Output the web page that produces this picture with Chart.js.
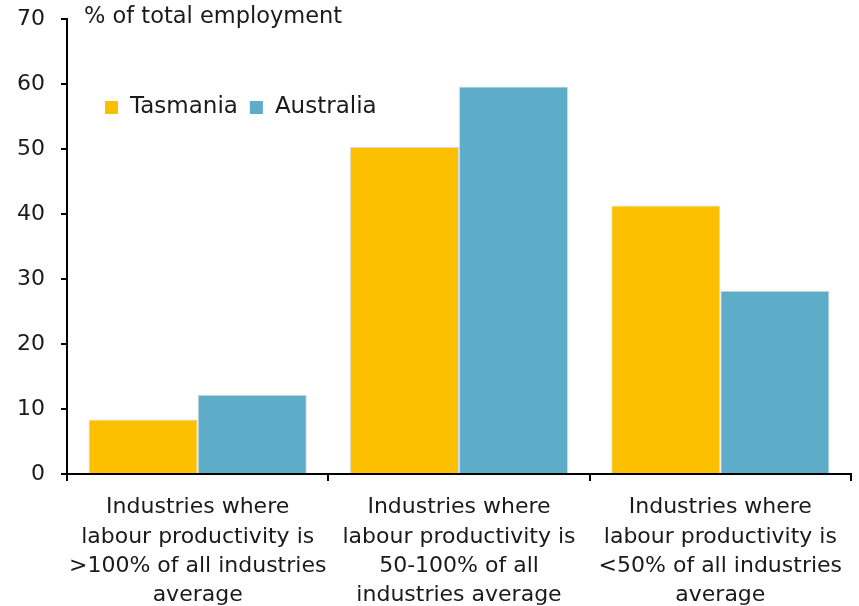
<!DOCTYPE html>
<html>
<head>
<meta charset="utf-8">
<script src="https://cdn.jsdelivr.net/npm/chart.js@4"></script>
<style>
  html, body { margin: 0; padding: 0; background: #fff; }
  #wrap { width: 859px; height: 606px; }
</style>
</head>
<body>
<div id="wrap"><canvas id="chart" width="859" height="606"></canvas></div>
<script>
// categories (multi-line labels)
const categories = [
  ['Industries where', 'labour productivity is', '>100% of all industries', 'average'],
  ['Industries where', 'labour productivity is', '50-100% of all', 'industries average'],
  ['Industries where', 'labour productivity is', '<50% of all industries', 'average'],
];
const tasmania = [8.4, 50.3, 41.3];
const australia = [12.2, 59.6, 28.2];
const yTicks = [0, 10, 20, 30, 40, 50, 60, 70];

const FONT = "'DejaVu Sans', sans-serif";
const TEXT = '#1a1a1a';

// axis title + legend drawn in the top-left corner of the plot
const overlayPlugin = {
  id: 'overlay',
  afterDraw(chart) {
    const { ctx } = chart;
    ctx.save();
    ctx.fillStyle = TEXT;
    ctx.font = '22.5px ' + FONT;
    ctx.textBaseline = 'middle';
    ctx.textAlign = 'left';
    ctx.fillText('% of total employment', 84, 17);

    ctx.font = '23px ' + FONT;
    let x = 105;
    chart.data.datasets.forEach((ds) => {
      ctx.fillStyle = ds.backgroundColor;
      ctx.fillRect(x, 101, 13, 13);
      ctx.fillStyle = TEXT;
      ctx.fillText(ds.label, x + 25, 107);
      x += 25 + ctx.measureText(ds.label).width + 12;
    });
    ctx.restore();
  },
};

new Chart(document.getElementById('chart'), {
  type: 'bar',
  data: {
    labels: categories,
    datasets: [
      {
        label: 'Tasmania',
        data: tasmania,
        backgroundColor: '#FDC000',
        borderColor: '#d9d9d9',
        borderWidth: 1,
      },
      {
        label: 'Australia',
        data: australia,
        backgroundColor: '#5DADC9',
        borderColor: '#d9d9d9',
        borderWidth: 1,
      },
    ],
  },
  options: {
    responsive: false,
    animation: false,
    layout: { padding: { top: 19, right: 8, left: 0, bottom: 0 } },
    datasets: { bar: { categoryPercentage: 0.835, barPercentage: 1 } },
    scales: {
      x: {
        grid: { display: true, drawOnChartArea: false, offset: true, color: '#000', lineWidth: 2, tickLength: 7 },
        border: { display: true, color: '#000', width: 2 },
        ticks: { color: TEXT, font: { family: FONT, size: 22, lineHeight: 1.33 }, padding: 12, maxRotation: 0, autoSkip: false },
        afterFit: (s) => { s.height = 132; s.paddingLeft = 0; s.paddingRight = 0; },
      },
      y: {
        min: 0,
        max: 70,
        afterBuildTicks: (s) => { s.ticks = yTicks.map((v) => ({ value: v })); },
        grid: { display: true, drawOnChartArea: false, color: '#000', lineWidth: 2, tickLength: 6 },
        border: { display: true, color: '#000', width: 2 },
        ticks: { color: TEXT, font: { family: FONT, size: 22 }, padding: 16 },
        afterFit: (s) => { s.width = 67; s.paddingTop = 0; s.paddingBottom = 0; },
      },
    },
    plugins: {
      legend: { display: false },
      tooltip: { enabled: false },
    },
  },
  plugins: [overlayPlugin],
});
</script>
</body>
</html>
